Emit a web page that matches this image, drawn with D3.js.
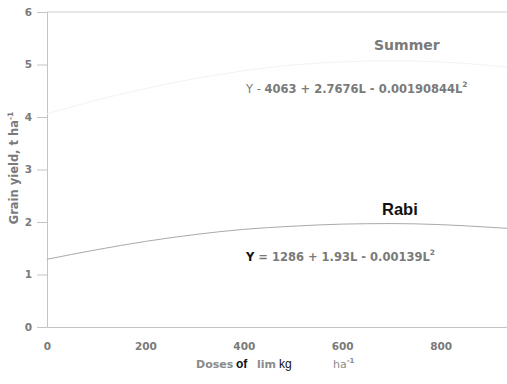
<!DOCTYPE html>
<html>
<head>
<meta charset="utf-8">
<script src="https://cdn.jsdelivr.net/npm/d3@7"></script>
<style>
  body { margin: 0; background: #fff; }
  svg { display: block; font-family: "DejaVu Sans", sans-serif; }
</style>
</head>
<body>
<svg id="chart" width="507" height="384"></svg>
<script>
// Lime dose (kg/ha) and grain yield (t/ha) for each season
const doses = [0, 100, 200, 300, 400, 500, 600, 700, 800, 900, 935];
const rabiYield = [1.29, 1.47, 1.63, 1.76, 1.86, 1.92, 1.96, 1.97, 1.95, 1.90, 1.88];
const summerYield = [4.06, 4.32, 4.54, 4.73, 4.88, 4.99, 5.05, 5.07, 5.05, 4.98, 4.95];
const xTicks = [0, 200, 400, 600, 800];
const yTicks = [0, 1, 2, 3, 4, 5, 6];

const svg = d3.select("#chart");
const x = d3.scaleLinear().domain([0, 935]).range([47, 507]);
const y = d3.scaleLinear().domain([0, 6]).range([327, 12]);

const axisCol = "#c4c4c4";
const labelCol = "#7a7a7a";
const boldFont = "'DejaVu Sans', sans-serif";
const armFont = "'Liberation Sans', Arial, sans-serif";

// top frame line
svg.append("line").attr("x1", 47).attr("x2", 507)
  .attr("y1", y(6)).attr("y2", y(6))
  .attr("stroke", "#cfcfcf").attr("stroke-width", 1);

// y axis
const yAxis = svg.append("g").attr("transform", "translate(47,0)")
  .call(d3.axisLeft(y).tickValues(yTicks).tickSize(10).tickPadding(5).tickFormat(d3.format("d")));
yAxis.select(".domain").attr("stroke", axisCol);
yAxis.selectAll(".tick line").attr("stroke", axisCol);
yAxis.selectAll(".tick text").attr("fill", labelCol).attr("font-size", 10.5)
  .attr("font-weight", "bold").attr("font-family", boldFont);

// x axis
const xAxis = svg.append("g").attr("transform", "translate(0,327)")
  .call(d3.axisBottom(x).tickValues(xTicks).tickSize(0).tickPadding(16).tickFormat(d3.format("d")));
xAxis.select(".domain").attr("stroke", axisCol);
xAxis.selectAll(".tick text").attr("fill", labelCol).attr("font-size", 10.5)
  .attr("font-weight", "bold").attr("font-family", boldFont);

const line = d3.line().x((d, i) => x(doses[i])).y(d => y(d)).curve(d3.curveMonotoneX);

// summer response curve (very faint)
svg.append("path").datum(summerYield).attr("d", line)
  .attr("fill", "none").attr("stroke", "#f3f3f3").attr("stroke-width", 1);

// rabi response curve
svg.append("path").datum(rabiYield).attr("d", line)
  .attr("fill", "none").attr("stroke", "#aaaaaa").attr("stroke-width", 1);

// series labels
svg.append("text").attr("x", 374).attr("y", 50).text("Summer")
  .attr("fill", labelCol).attr("font-size", 14).attr("font-weight", "bold");
svg.append("text").attr("x", 382).attr("y", 215).text("Rabi")
  .attr("fill", "#111").attr("font-size", 16.5).attr("font-weight", "bold")
  .attr("font-family", armFont);

// regression equations
const eq1 = svg.append("text").attr("x", 246).attr("y", 93)
  .attr("font-size", 11.5).attr("fill", labelCol).attr("font-weight", "bold");
eq1.append("tspan").attr("font-weight", "normal").text("Y - ");
eq1.append("tspan").text("4063 + 2.7676L - 0.00190844L");
eq1.append("tspan").attr("dy", -6).attr("font-size", 7.5).text("2");

const eq2 = svg.append("text").attr("x", 246).attr("y", 261)
  .attr("font-size", 11.5).attr("fill", labelCol).attr("font-weight", "bold");
eq2.append("tspan").attr("fill", "#111").text("Y");
eq2.append("tspan").text(" = 1286 + 1.93L - 0.00139L");
eq2.append("tspan").attr("dy", -6).attr("font-size", 7.5).text("2");

// axis titles
svg.append("text")
  .attr("transform", "translate(18,168) rotate(-90)")
  .attr("text-anchor", "middle").attr("font-size", 11.5).attr("font-weight", "bold")
  .attr("fill", labelCol)
  .text("Grain yield, t ha")
  .append("tspan").attr("dy", -5).attr("font-size", 7.5).text("-1");

const xt = svg.append("text").attr("y", 368).attr("font-size", 11).attr("font-weight", "bold");
xt.append("tspan").attr("x", 196).attr("fill", "#8a8a8a").text("Doses");
xt.append("tspan").attr("x", 236).attr("fill", "#111").attr("font-size", 12)
  .attr("font-family", armFont).text("of");
xt.append("tspan").attr("x", 257).attr("fill", "#8a8a8a").text("lim");
xt.append("tspan").attr("x", 279).attr("fill", "#111").attr("font-weight", "normal").attr("font-size", 12)
  .attr("font-family", armFont).text("kg");
xt.append("tspan").attr("x", 333).attr("fill", "#8a8a8a").attr("font-weight", "normal").text("ha");
xt.append("tspan").attr("dy", -5).attr("font-size", 7).attr("fill", "#8a8a8a").text("-1");
</script>
</body>
</html>
